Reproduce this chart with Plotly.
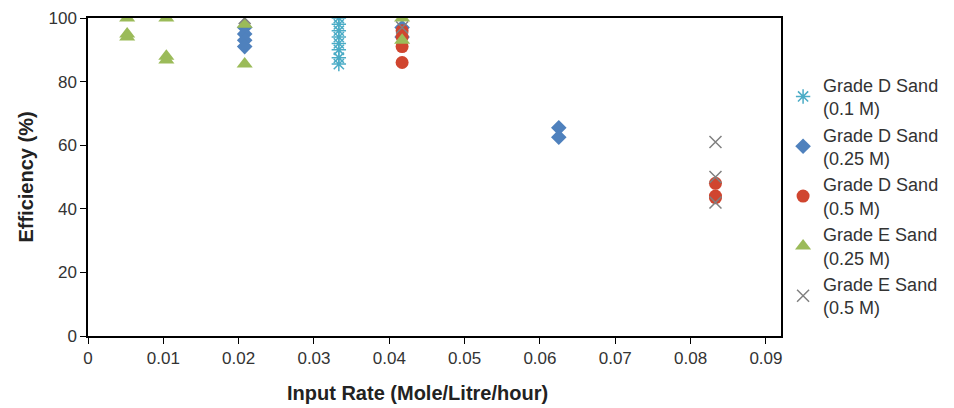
import plotly.graph_objects as go

# Data (input rate in mol/L/h, efficiency in %)
d01_x = [0.0333, 0.0333, 0.0333, 0.0333, 0.0333, 0.0333, 0.0333, 0.0333]
d01_y = [100, 98, 96, 94, 92, 90, 87.5, 85.5]

d025_x = [0.0208, 0.0208, 0.0208, 0.0208, 0.0417, 0.0417, 0.0625, 0.0625]
d025_y = [97, 95, 93, 91, 97, 94, 65.5, 62.5]

d05_x = [0.0417, 0.0417, 0.0417, 0.0417, 0.0833, 0.0833, 0.0833]
d05_y = [96, 94, 91, 86, 48, 44, 43.5]

e025_x = [0.0052, 0.0052, 0.0052, 0.0104, 0.0104, 0.0104, 0.0208, 0.0208, 0.0417, 0.0417]
e025_y = [100, 95, 94, 100, 88, 86.8, 98, 85.5, 100, 93]

e05_x = [0.0208, 0.0417, 0.0833, 0.0833, 0.0833]
e05_y = [100, 97, 61, 50, 42]

names = ["Grade D Sand<br>(0.1 M)", "Grade D Sand<br>(0.25 M)", "Grade D Sand<br>(0.5 M)",
         "Grade E Sand<br>(0.25 M)", "Grade E Sand<br>(0.5 M)"]
x_ticks = [0, 0.01, 0.02, 0.03, 0.04, 0.05, 0.06, 0.07, 0.08, 0.09]
x_tick_labels = ["0", "0.01", "0.02", "0.03", "0.04", "0.05", "0.06", "0.07", "0.08", "0.09"]

fig = go.Figure()
fig.add_trace(go.Scatter(x=d01_x, y=d01_y, mode="markers", name=names[0],
                         marker=dict(symbol="asterisk-open", size=12, color="#4bacc6",
                                     line=dict(width=1.5, color="#4bacc6"))))
fig.add_trace(go.Scatter(x=d025_x, y=d025_y, mode="markers", name=names[1],
                         marker=dict(symbol="diamond", size=12, color="#4f81bd")))
fig.add_trace(go.Scatter(x=d05_x, y=d05_y, mode="markers", name=names[2],
                         marker=dict(symbol="circle", size=13, color="#d0452f")))
fig.add_trace(go.Scatter(x=e025_x, y=e025_y, mode="markers", name=names[3],
                         marker=dict(symbol="triangle-up", size=14, color="#9bbb59")))
fig.add_trace(go.Scatter(x=e05_x, y=e05_y, mode="markers", name=names[4],
                         marker=dict(symbol="x-thin-open", size=12, color="#808080",
                                     line=dict(width=1.5, color="#808080"))))

ff = "Liberation Sans, Arial, sans-serif"
axis_font = dict(family=ff, size=17, color="#333333")
fig.update_layout(
    width=946, height=400,
    margin=dict(l=80, r=169, t=10, b=72),
    paper_bgcolor="white", plot_bgcolor="white",
    font=dict(family=ff, color="#333333"),
    xaxis=dict(range=[0, 0.092], tickvals=x_ticks, ticktext=x_tick_labels,
               showgrid=False, zeroline=False, automargin=False,
               showline=True, linecolor="black", linewidth=1.5, mirror=True,
               ticks="outside", ticklen=6, tickcolor="black", tickfont=axis_font),
    yaxis=dict(range=[0, 100], dtick=20, showgrid=False, zeroline=False, automargin=False,
               showline=True, linecolor="black", linewidth=1.5, mirror=True,
               ticks="outside", ticklen=6, tickcolor="black", tickfont=axis_font,
               title=dict(text="<b>Efficiency (%)</b>", standoff=9,
                          font=dict(family=ff, size=20, color="#222222"))),
    legend=dict(x=1.003, xanchor="left", y=0.44, yanchor="middle",
                font=dict(family=ff, size=18, color="#333333"),
                tracegroupgap=9, itemwidth=30, bgcolor="rgba(0,0,0,0)"),
    showlegend=True,
)
fig.add_annotation(text="<b>Input Rate (Mole/Litre/hour)</b>", xref="paper", yref="paper",
                   x=0.475, y=0, xanchor="center", yanchor="middle", yshift=-57,
                   showarrow=False, font=dict(family=ff, size=20, color="#222222"))

fig.write_html("out.html")
